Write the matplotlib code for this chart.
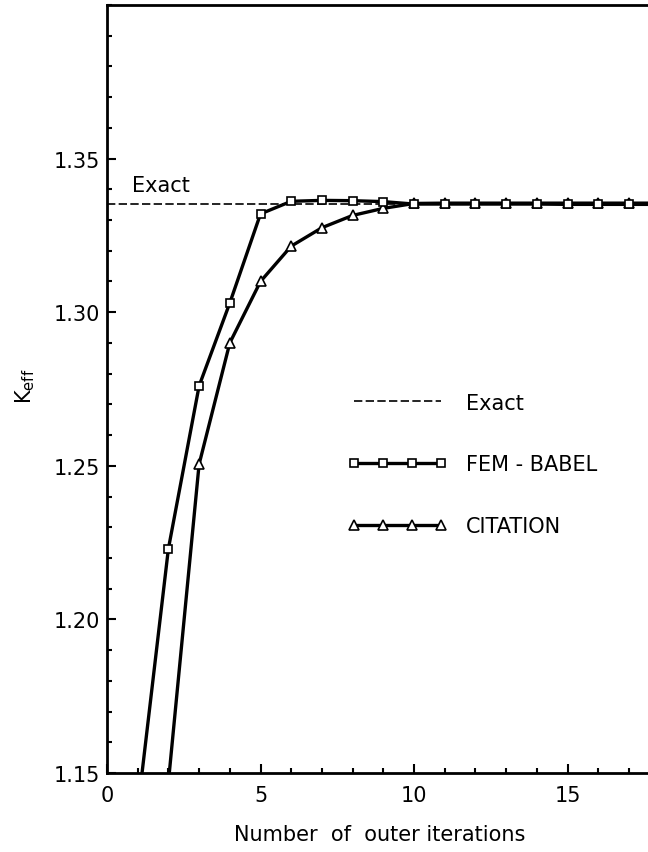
import numpy as np
import matplotlib.pyplot as plt
from matplotlib.ticker import MultipleLocator, FormatStrFormatter

# iteration number and k_eff
fem_iter = np.array([1, 2, 3, 4, 5, 6, 7, 8, 9, 10, 11, 12, 13, 14, 15, 16, 17, 18, 19, 20])
fem_keff = np.array([1.138, 1.223, 1.276, 1.303, 1.332, 1.3361, 1.3364, 1.3363, 1.3360, 1.3352,
                     1.3352, 1.3352, 1.3352, 1.3352, 1.3351, 1.3351, 1.3351, 1.3351, 1.3351, 1.3351])
cit_iter = np.array([1, 2, 3, 4, 5, 6, 7, 8, 9, 10, 11, 12, 13, 14, 15, 16, 17, 18, 19, 20])
cit_keff = np.array([1.05, 1.147, 1.2505, 1.290, 1.310, 1.3215, 1.3275, 1.3315, 1.3338, 1.3354,
                     1.3355, 1.3355, 1.3355, 1.3355, 1.3355, 1.3355, 1.3355, 1.3355, 1.3355, 1.3355])
exact_keff = 1.3353

plt.rcParams['font.family'] = ['DejaVu Sans']
fs = 15

fig = plt.figure(figsize=(6.48, 8.53), dpi=100)
# the original is cropped on the right, so the axes simply stops at the page edge
ax = fig.add_axes([107 / 648, 79 / 853, 541 / 648, 768 / 853])

ax.axhline(exact_keff, color='black', lw=1.2, ls=(0, (5, 2)), label='Exact', zorder=1)
l_cit, = ax.plot(cit_iter, cit_keff, '-^', color='black', lw=2.4, ms=6.5, mfc='white',
                 mec='black', mew=1.2, label='CITATION', zorder=2)
l_fem, = ax.plot(fem_iter, fem_keff, '-s', color='black', lw=2.4, ms=6, mfc='white',
                 mec='black', mew=1.2, label='FEM - BABEL', zorder=3)

ax.set_xlim(0, 541 / 30.7)
ax.set_ylim(1.15, 1.40)
ax.set_xticks([0, 5, 10, 15])
ax.xaxis.set_minor_locator(MultipleLocator(1))
ax.yaxis.set_minor_locator(MultipleLocator(0.01))
ax.set_yticks([1.15, 1.20, 1.25, 1.30, 1.35])
ax.yaxis.set_major_formatter(FormatStrFormatter('%.2f'))

ax.tick_params(which='both', direction='in', top=False, right=False, width=1.5)
ax.tick_params(which='major', length=6.5, labelsize=fs)
ax.tick_params(which='minor', length=3.5)
ax.tick_params(axis='x', pad=9)
ax.tick_params(axis='y', pad=5)

for s in ['left', 'bottom', 'top']:
    ax.spines[s].set_linewidth(2)
ax.spines['right'].set_visible(False)

ax.text(0.8, 1.3396, 'Exact', fontsize=fs, va='baseline', ha='left')

fig.text(380 / 648, 1 - 835 / 853, 'Number  of  outer iterations', fontsize=fs,
         ha='center', va='center')
fig.text(25 / 648, 1 - 386 / 853, r'K$_{\mathregular{eff}}$', fontsize=fs,
         rotation=90, ha='center', va='center')

handles = [ax.lines[0], l_fem, l_cit]
ax.legend(handles, ['Exact', 'FEM - BABEL', 'CITATION'], loc='upper left',
          bbox_to_anchor=(7.83, 1.2738), bbox_transform=ax.transData,
          frameon=False, numpoints=4, handlelength=4.8, handletextpad=0.9,
          labelspacing=2.0, borderpad=0, borderaxespad=0, fontsize=fs)

fig.savefig('out.png', dpi=100)
